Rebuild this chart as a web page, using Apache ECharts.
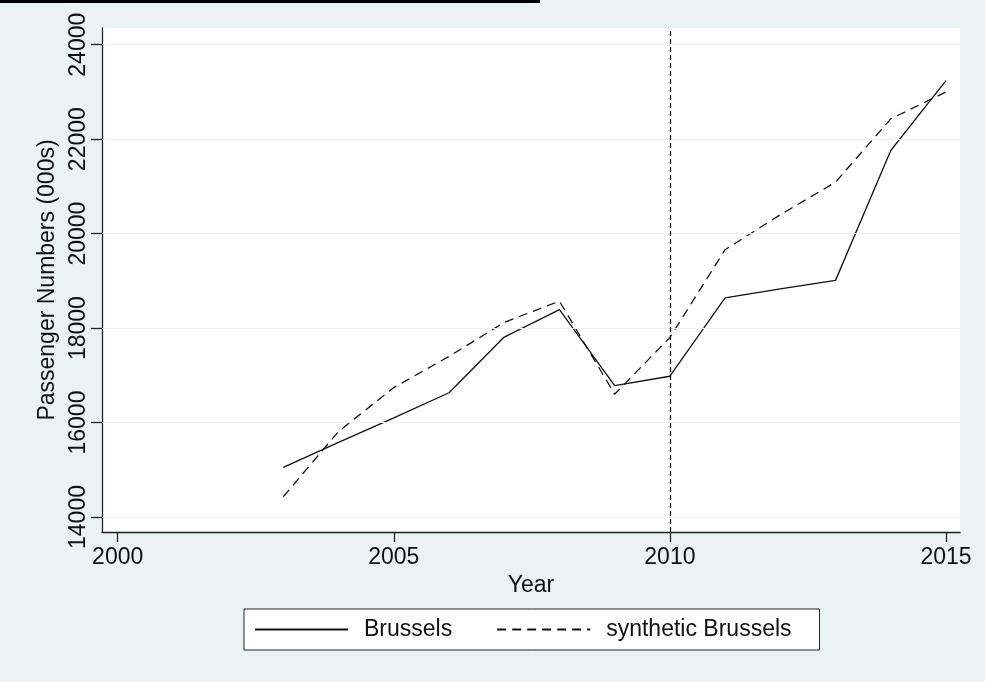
<!DOCTYPE html>
<html>
<head>
<meta charset="utf-8">
<script src="https://cdn.jsdelivr.net/npm/echarts@6/dist/echarts.min.js"></script>
<style>
  html, body { margin: 0; padding: 0; background: #eaf2f3; }
  #grafico { width: 985px; height: 682px; }
</style>
</head>
<body>
<div id="grafico"></div>
<script>
var years = [2003, 2004, 2005, 2006, 2007, 2008, 2009, 2010, 2011, 2012, 2013, 2014, 2015];
var brussels = [15050, 15580, 16100, 16630, 17810, 18390, 16780, 16980, 18640, 18830, 19010, 21760, 23240];
var synthetic = [14430, 15810, 16740, 17400, 18120, 18570, 16600, 17800, 19660, 20400, 21090, 22430, 23000];
var xTicks = [2000, 2005, 2010, 2015];
var yTicks = [14000, 16000, 18000, 20000, 22000, 24000];
var treatYear = 2010;

var font = 'Liberation Sans, Arial, sans-serif';

function pairs(vals) {
  return years.map(function (y, i) { return [y, vals[i]]; });
}

var chartDom = document.getElementById('grafico');
var myChart = echarts.init(chartDom);
var option;
option = {
  backgroundColor: '#eaf2f3',
  animation: false,
  textStyle: { fontFamily: font, color: '#111' },
  graphic: [
    { type: 'rect', shape: { x: 0, y: 0, width: 540, height: 3 }, style: { fill: '#000' } }
  ],
  grid: {
    left: 102, right: 25, top: 28, bottom: 150,
    show: true, backgroundColor: '#fff', borderWidth: 0
  },
  legend: {
    data: ['Brussels', 'synthetic Brussels'],
    left: 244,
    top: 609,
    padding: [9, 28, 9, 10],
    backgroundColor: '#fff',
    borderColor: '#222',
    borderWidth: 1,
    itemGap: 44,
    itemWidth: 93,
    itemHeight: 14,
    itemStyle: { opacity: 0 },
    lineStyle: { opacity: 1 },
    textStyle: { fontFamily: font, fontSize: 23, color: '#111', padding: [0, 0, 0, 11] }
  },
  xAxis: {
    type: 'value',
    min: 1999.716,
    max: 2015.254,
    name: 'Year',
    nameLocation: 'middle',
    nameGap: 37,
    nameTextStyle: { fontFamily: font, fontSize: 23, color: '#111' },
    axisLine: { show: true, lineStyle: { color: '#222', width: 1.3 } },
    axisTick: { show: true, length: 10, customValues: xTicks, lineStyle: { color: '#222', width: 1.3 } },
    axisLabel: {
      customValues: xTicks, fontSize: 23, color: '#111', margin: 14, fontFamily: font,
      formatter: function (v) { return String(v); }
    },
    splitLine: { show: false }
  },
  yAxis: {
    type: 'value',
    min: 13682,
    max: 24354,
    name: 'Passenger Numbers (000s)',
    nameLocation: 'middle',
    nameGap: 42,
    nameTextStyle: { fontFamily: font, fontSize: 23, color: '#111' },
    axisLine: { show: true, lineStyle: { color: '#222', width: 1.3 } },
    axisTick: { show: true, length: 11, customValues: yTicks, lineStyle: { color: '#222', width: 1.3 } },
    axisLabel: {
      customValues: yTicks, rotate: 90, fontSize: 23, color: '#111', margin: 12, fontFamily: font,
      formatter: function (v) { return String(v); }
    },
    splitLine: { show: false }
  },
  series: [
    {
      name: 'grid',
      type: 'line',
      data: [],
      silent: true,
      z: 1,
      markLine: {
        silent: true,
        symbol: 'none',
        label: { show: false },
        lineStyle: { color: '#eaf2f3', type: 'solid', width: 1.2 },
        data: yTicks.map(function (v) { return { yAxis: v }; })
      }
    },
    {
      name: 'Brussels',
      type: 'line',
      data: pairs(brussels),
      symbol: 'none',
      z: 3,
      lineStyle: { color: '#111', width: 1.3, type: 'solid' },
      itemStyle: { color: '#111' },
      markLine: {
        silent: true,
        symbol: 'none',
        label: { show: false },
        lineStyle: { color: '#111', type: [5, 3], width: 1.3 },
        data: [{ xAxis: treatYear }]
      }
    },
    {
      name: 'synthetic Brussels',
      type: 'line',
      data: pairs(synthetic),
      symbol: 'none',
      z: 3,
      lineStyle: { color: '#111', width: 1.3, type: [9, 6] },
      itemStyle: { color: '#111' }
    }
  ]
};

option && myChart.setOption(option);
</script>
</body>
</html>
